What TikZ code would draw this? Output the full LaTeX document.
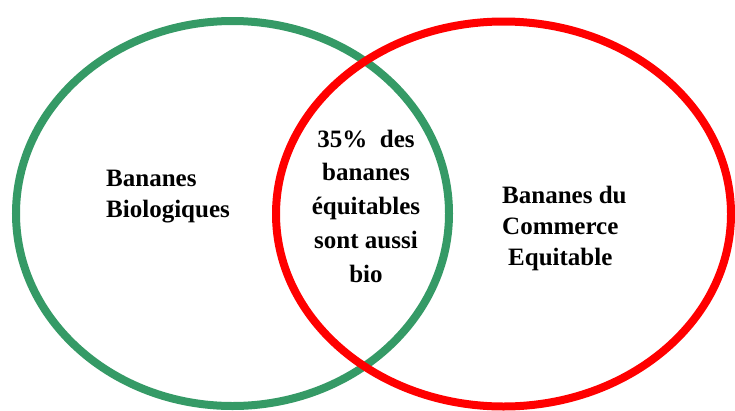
\documentclass[tikz,border=0pt]{standalone}
\usepackage{fontspec}
\setmainfont{Liberation Serif}
\usetikzlibrary{shapes.geometric}
\definecolor{vennGreen}{RGB}{53,154,102}
\definecolor{vennRed}{RGB}{255,0,0}
\tikzset{
  vennset/.style={ellipse, draw, line width=8pt, inner sep=0pt},
  venntext/.style={font=\bfseries\fontsize{25}{31}\selectfont, inner sep=0pt, text=black}
}
\begin{document}
\begin{tikzpicture}[x=1pt,y=-1pt]
\useasboundingbox[fill=white] (0,0) rectangle (735,410);
\node[vennset, draw=vennGreen, minimum width=433pt, minimum height=385pt] (bio) at (232.5,213.5) {};
\node[vennset, draw=vennRed, minimum width=455pt, minimum height=385pt] (equi) at (503.5,214) {};
\node[venntext, align=left, anchor=base west] (biotxt) at (106,217) {Bananes\\Biologiques};
\node[venntext, align=left, anchor=base west] (equitxt) at (502,265) {Bananes du\\Commerce\\\hspace*{6pt}Equitable};
\node[venntext, align=center, anchor=base, font=\bfseries\fontsize{25}{33.7}\selectfont] (both) at (366,282) {35\%\ \ des\\bananes\\équitables\\sont aussi\\bio};
\end{tikzpicture}
\end{document}
